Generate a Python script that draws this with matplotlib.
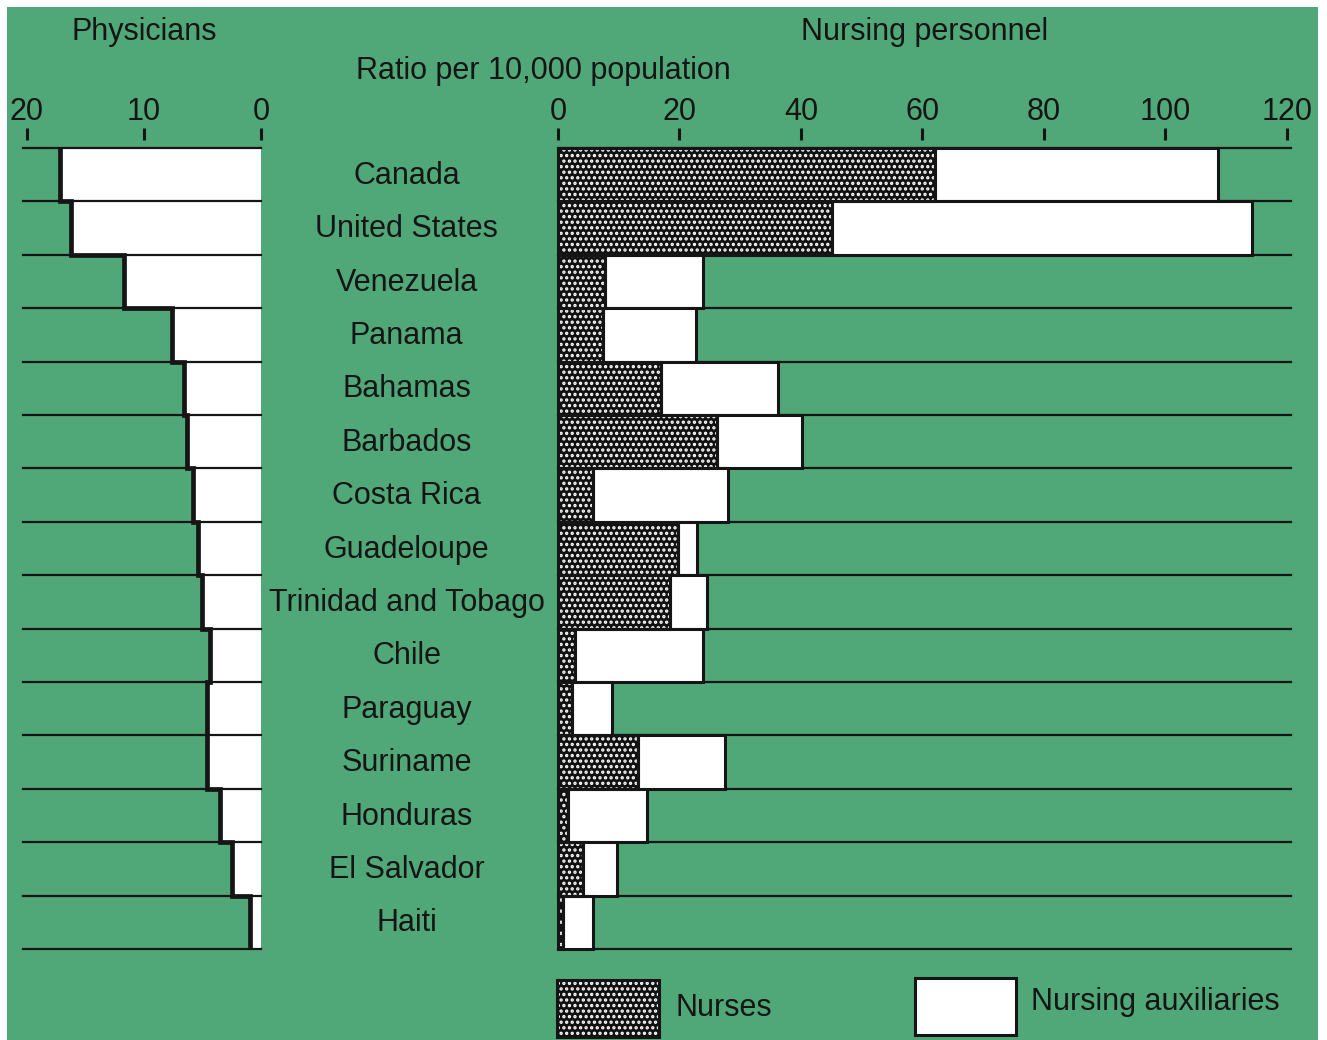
import matplotlib
matplotlib.use('Agg')
import matplotlib.pyplot as plt
from matplotlib.patches import Rectangle
from matplotlib.transforms import blended_transform_factory
import numpy as np

countries = ["Canada", "United States", "Venezuela", "Panama", "Bahamas",
             "Barbados", "Costa Rica", "Guadeloupe", "Trinidad and Tobago",
             "Chile", "Paraguay", "Suriname", "Honduras", "El Salvador", "Haiti"]
physicians = [17.2, 16.2, 11.7, 7.6, 6.6, 6.3, 5.8, 5.4, 5.0, 4.4, 4.6, 4.6, 3.5, 2.5, 0.9]
nurses = [62.1, 45.1, 7.7, 7.4, 17.0, 26.2, 5.8, 19.8, 18.5, 2.8, 2.3, 13.2, 1.7, 4.1, 0.8]
auxiliaries = [46.5, 69.1, 16.2, 15.3, 19.2, 14.0, 22.2, 3.1, 6.0, 21.1, 6.6, 14.3, 12.9, 5.6, 5.0]
phys_ticks = [20, 10, 0]
nurse_ticks = [0, 20, 40, 60, 80, 100, 120]

FONT = 'Liberation Sans'
plt.rcParams['font.family'] = [FONT, 'DejaVu Sans']
plt.rcParams['hatch.linewidth'] = 1.6
GREEN = '#50a778'
INK = '#151515'
FS = 22
DOTS = '...'

W, H = 1327, 1040
fig = plt.figure(figsize=(W / 100, H / 100), dpi=100)
fig.patch.set_facecolor('white')
fig.patches.append(Rectangle((7 / W, 0), (1318 - 7) / W, (H - 7) / H,
                             transform=fig.transFigure, facecolor=GREEN,
                             edgecolor='none', zorder=-10))


def ax_rect(x0, x1, ytop, ybot):
    return [x0 / W, 1 - ybot / H, (x1 - x0) / W, (ybot - ytop) / H]


n = len(countries)
y = np.arange(n)
edges = np.arange(n + 1) - 0.5

axL = fig.add_axes(ax_rect(23, 261, 148, 949))
axR = fig.add_axes(ax_rect(558, 1291, 148, 949))
axM = fig.add_axes(ax_rect(261, 558, 148, 949))
for ax in (axL, axR, axM):
    ax.set_facecolor('none')
    ax.set_ylim(n - 0.5, -0.5)
    for s in ax.spines.values():
        s.set_visible(False)
    ax.set_yticks([])

# Left panel: physicians
axL.set_xlim(20.34, 0)
axL.barh(y, physicians, height=1.0, color='white', linewidth=0, zorder=1)
for e in edges:
    axL.axhline(e, color=INK, lw=1.6, zorder=2, clip_on=False)
axL.stairs(physicians, edges, orientation='horizontal', baseline=None,
           color=INK, lw=3.4, zorder=3, clip_on=False)

# Right panel: nursing personnel
axR.set_xlim(0, 120.66)
for e in edges:
    axR.axhline(e, color=INK, lw=1.6, zorder=1, clip_on=False)
axR.barh(y, nurses, height=1.0, color='#111111', edgecolor='white',
         hatch=DOTS, linewidth=0, zorder=2, clip_on=False)
axR.barh(y, auxiliaries, left=nurses, height=1.0, color='white',
         edgecolor=INK, linewidth=2.2, zorder=3, clip_on=False)
axR.barh(y, nurses, height=1.0, fill=False, edgecolor=INK,
         linewidth=2.2, zorder=4, clip_on=False)

for ax, ticks in ((axL, phys_ticks), (axR, nurse_ticks)):
    ax.xaxis.tick_top()
    ax.set_xticks(ticks)
    ax.set_xticklabels([str(t) for t in ticks])
    ax.spines['top'].set_position(('outward', 5.8))
    ax.tick_params(axis='x', direction='out', length=8.6, width=2.2,
                   pad=0.8, labelsize=FS, colors=INK, top=True, bottom=False)

# Middle: country labels
axM.set_xticks([])
tr = blended_transform_factory(axM.transAxes, axM.transData)
for yi, name in zip(y, countries):
    axM.text(0.49, yi + 0.17, name, transform=tr, ha='center', va='baseline',
             fontsize=FS, color=INK)

# Headers
fig.text(144 / W, 1 - 40 / H, 'Physicians', ha='center', va='baseline',
         fontsize=FS, color=INK)
fig.text(925 / W, 1 - 40 / H, 'Nursing personnel', ha='center', va='baseline',
         fontsize=FS, color=INK)
fig.text(543 / W, 1 - 79 / H, 'Ratio per 10,000 population', ha='center',
         va='baseline', fontsize=FS, color=INK)

# Legend
fig.patches.append(Rectangle((557 / W, 1 - 1037 / H), 102 / W, 57 / H,
                             transform=fig.transFigure, facecolor='#111111',
                             edgecolor='white', hatch=DOTS, linewidth=0))
fig.patches.append(Rectangle((557 / W, 1 - 1037 / H), 102 / W, 57 / H,
                             transform=fig.transFigure, fill=False,
                             edgecolor=INK, linewidth=2.2))
fig.patches.append(Rectangle((915 / W, 1 - 1035 / H), 101 / W, 57 / H,
                             transform=fig.transFigure, facecolor='white',
                             edgecolor=INK, linewidth=2.2))
fig.text(675 / W, 1 - 1016 / H, 'Nurses', ha='left', va='baseline',
         fontsize=FS, color=INK)
fig.text(1031 / W, 1 - 1010 / H, 'Nursing auxiliaries', ha='left',
         va='baseline', fontsize=FS, color=INK)

fig.savefig('out.png', dpi=100, facecolor=fig.get_facecolor())
